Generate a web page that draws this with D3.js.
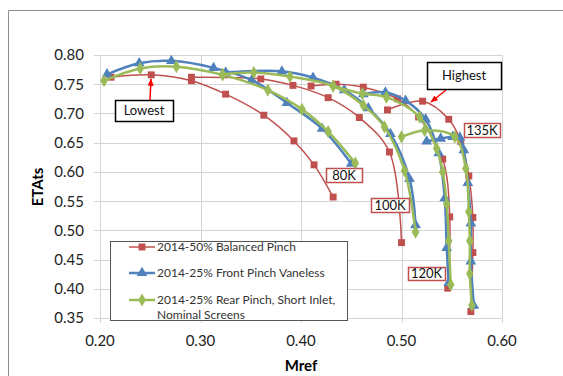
<!DOCTYPE html>
<html>
<head>
<meta charset="utf-8">
<script src="https://cdn.jsdelivr.net/npm/d3@7"></script>
<style>
  body { margin: 0; background: #fff; }
  text { font-family: Lato, "Liberation Sans", sans-serif; }
</style>
</head>
<body>
<div id="chart"></div>
<script>
// [Mref, ETAts] per speed line
var balanced80  = [[0.211,0.762],[0.251,0.766],[0.291,0.756],[0.325,0.733],[0.363,0.697],[0.393,0.653],[0.413,0.612],[0.432,0.557]];
var balanced100 = [[0.291,0.762],[0.360,0.759],[0.392,0.748],[0.427,0.727],[0.458,0.693],[0.488,0.634],[0.500,0.479]];
var balanced120 = [[0.410,0.747],[0.435,0.750],[0.462,0.745],[0.496,0.725],[0.517,0.694],[0.541,0.622],[0.548,0.523],[0.546,0.401]];
var balanced135 = [[0.486,0.706],[0.521,0.721],[0.547,0.690],[0.559,0.652],[0.567,0.593],[0.571,0.522],[0.571,0.462],[0.569,0.361]];

var front80  = [[0.207,0.767],[0.239,0.786],[0.271,0.790],[0.313,0.778],[0.351,0.757],[0.386,0.718],[0.421,0.674],[0.450,0.614]];
var front100 = [[0.325,0.770],[0.381,0.772],[0.412,0.761],[0.443,0.740],[0.467,0.709],[0.489,0.665],[0.508,0.588],[0.514,0.509]];
var front120 = [[0.462,0.733],[0.484,0.736],[0.504,0.722],[0.524,0.690],[0.537,0.632],[0.543,0.555],[0.545,0.470],[0.547,0.410]];
var front135 = [[0.525,0.652],[0.539,0.657],[0.551,0.660],[0.558,0.659],[0.562,0.637],[0.566,0.581],[0.569,0.512],[0.569,0.447],[0.572,0.371]];

var rear80  = [[0.204,0.756],[0.240,0.777],[0.276,0.780],[0.322,0.766],[0.367,0.740],[0.401,0.707],[0.427,0.669],[0.454,0.615]];
var rear100 = [[0.322,0.767],[0.353,0.770],[0.389,0.763],[0.432,0.747],[0.462,0.714],[0.483,0.677],[0.503,0.602],[0.514,0.497]];
var rear120 = [[0.432,0.747],[0.461,0.734],[0.485,0.728],[0.518,0.694],[0.535,0.640],[0.541,0.600],[0.545,0.545],[0.547,0.482],[0.549,0.407]];
var rear135 = [[0.500,0.660],[0.523,0.671],[0.553,0.660],[0.564,0.606],[0.567,0.532],[0.568,0.482],[0.568,0.426],[0.570,0.372]];

var seriesNames = ["2014-50% Balanced Pinch", "2014-25% Front Pinch Vaneless", "2014-25% Rear Pinch, Short Inlet,"];
var xTicks = [0.20, 0.30, 0.40, 0.50, 0.60];
var yTicks = [0.35, 0.40, 0.45, 0.50, 0.55, 0.60, 0.65, 0.70, 0.75, 0.80];

var series = [
  {name: seriesNames[0], lines: [balanced80, balanced100, balanced120, balanced135], color: "#C0504D", width: 1.5, symbol: d3.symbolSquare, size: 48},
  {name: seriesNames[1], lines: [front80, front100, front120, front135], color: "#4F81BD", width: 2.5, symbol: d3.symbolTriangle, size: 50},
  {name: seriesNames[2], lines: [rear80, rear100, rear120, rear135], color: "#9BBB59", width: 2.5, symbol: d3.symbolDiamond, size: 50}
];

var width = 563, height = 376;

var svg = d3.select("#chart")
    .append("svg")
    .attr("width", width)
    .attr("height", height);

// outer chart frame
svg.append("path")
    .attr("d", "M8.5,376V10.5H563")
    .attr("fill", "none")
    .attr("stroke", "#8c8c8c")
    .attr("stroke-width", 1);

var x = d3.scaleLinear().domain([0.2, 0.6]).range([100, 502]);
var y = d3.scaleLinear().domain([0.35, 0.80]).range([318, 55]);

// gridlines
svg.append("g")
    .selectAll("line")
    .data(yTicks)
    .enter()
    .append("line")
    .attr("x1", x(0.2) - 6)
    .attr("x2", x(0.6))
    .attr("y1", function(d) { return Math.round(y(d)) + 0.5; })
    .attr("y2", function(d) { return Math.round(y(d)) + 0.5; })
    .attr("stroke", "#d4d4d4");

svg.append("g")
    .selectAll("line")
    .data(xTicks)
    .enter()
    .append("line")
    .attr("x1", function(d) { return Math.round(x(d)) + 0.5; })
    .attr("x2", function(d) { return Math.round(x(d)) + 0.5; })
    .attr("y1", y(0.8))
    .attr("y2", y(0.35) + 5)
    .attr("stroke", "#d4d4d4");

// tick labels
svg.append("g")
    .selectAll("text")
    .data(yTicks)
    .enter()
    .append("text")
    .attr("x", 84)
    .attr("y", function(d) { return y(d); })
    .attr("dy", "0.36em")
    .attr("text-anchor", "end")
    .attr("font-size", 15)
    .attr("fill", "#222")
    .text(d3.format(".2f"));

svg.append("g")
    .selectAll("text")
    .data(xTicks)
    .enter()
    .append("text")
    .attr("x", function(d) { return x(d); })
    .attr("y", 346)
    .attr("text-anchor", "middle")
    .attr("font-size", 15)
    .attr("fill", "#222")
    .text(d3.format(".2f"));

// axis titles
svg.append("text")
    .attr("x", 301)
    .attr("y", 371)
    .attr("text-anchor", "middle")
    .attr("font-size", 15)
    .attr("font-weight", "bold")
    .text("Mref");

svg.append("text")
    .attr("transform", "translate(43,187) rotate(-90)")
    .attr("text-anchor", "middle")
    .attr("font-size", 15)
    .attr("font-weight", "bold")
    .text("ETAts");

// speed lines
var line = d3.line()
    .x(function(d) { return x(d[0]); })
    .y(function(d) { return y(d[1]); })
    .curve(d3.curveCatmullRom.alpha(0.5));

series.forEach(function(s) {
    var g = svg.append("g");
    g.selectAll("path.speed")
        .data(s.lines)
        .enter()
        .append("path")
        .attr("class", "speed")
        .attr("d", line)
        .attr("fill", "none")
        .attr("stroke", s.color)
        .attr("stroke-width", s.width);
    s.lines.forEach(function(pts) {
        g.selectAll(null)
            .data(pts)
            .enter()
            .append("path")
            .attr("d", d3.symbol().type(s.symbol).size(s.size))
            .attr("transform", function(d) { return "translate(" + x(d[0]) + "," + y(d[1]) + ")"; })
            .attr("fill", s.color);
    });
});

// legend
var legend = svg.append("g");
legend.append("rect")
    .attr("x", 110.5).attr("y", 241.5)
    .attr("width", 237).attr("height", 79)
    .attr("fill", "#fff")
    .attr("stroke", "#555");

var legendRows = [247, 273, 300];
series.forEach(function(s, i) {
    var ly = legendRows[i];
    legend.append("line")
        .attr("x1", 129).attr("x2", 155)
        .attr("y1", ly).attr("y2", ly)
        .attr("stroke", s.color)
        .attr("stroke-width", s.width);
    legend.append("path")
        .attr("d", d3.symbol().type(s.symbol).size(s.size))
        .attr("transform", "translate(142," + ly + ")")
        .attr("fill", s.color);
    legend.append("text")
        .attr("x", 157)
        .attr("y", ly)
        .attr("dy", "0.36em")
        .attr("font-size", 12)
        .attr("fill", "#333")
        .text(s.name);
});
legend.append("text")
    .attr("x", 157)
    .attr("y", 315)
    .attr("dy", "0.36em")
    .attr("font-size", 12)
    .attr("fill", "#333")
    .text("Nominal Screens");

// call-outs
var arrowDefs = svg.append("defs");
arrowDefs.append("marker")
    .attr("id", "arrow")
    .attr("viewBox", "0 0 10 10")
    .attr("refX", 9).attr("refY", 5)
    .attr("markerWidth", 5).attr("markerHeight", 5)
    .attr("orient", "auto")
    .append("path")
    .attr("d", "M0,1L10,5L0,9z")
    .attr("fill", "#ff0000");

svg.append("line")
    .attr("x1", 150).attr("y1", 100)
    .attr("x2", 151).attr("y2", 79)
    .attr("stroke", "#ff0000").attr("stroke-width", 1.5)
    .attr("marker-end", "url(#arrow)");

svg.append("line")
    .attr("x1", 446).attr("y1", 90)
    .attr("x2", 431).attr("y2", 102)
    .attr("stroke", "#ff0000").attr("stroke-width", 1.5)
    .attr("marker-end", "url(#arrow)");

var boxes = [
    {text: "Lowest", x: 115, y: 100, w: 58, h: 21, stroke: "#000", size: 13},
    {text: "Highest", x: 427, y: 62, w: 74, h: 27, stroke: "#000", size: 13},
    {text: "135K", x: 464, y: 123, w: 36, h: 14, stroke: "#C0504D", size: 13},
    {text: "80K", x: 326, y: 168, w: 36, h: 14, stroke: "#C0504D", size: 13},
    {text: "100K", x: 371, y: 198, w: 38, h: 14, stroke: "#C0504D", size: 13},
    {text: "120K", x: 408, y: 267, w: 37, h: 13, stroke: "#C0504D", size: 13}
];

var box = svg.append("g")
    .selectAll("g")
    .data(boxes)
    .enter()
    .append("g");

box.append("rect")
    .attr("x", function(d) { return d.x + 0.5; })
    .attr("y", function(d) { return d.y + 0.5; })
    .attr("width", function(d) { return d.w; })
    .attr("height", function(d) { return d.h; })
    .attr("fill", "#fff")
    .attr("stroke", function(d) { return d.stroke; })
    .attr("stroke-width", 1.5);

box.append("text")
    .attr("x", function(d) { return d.x + d.w / 2; })
    .attr("y", function(d) { return d.y + d.h / 2; })
    .attr("dy", "0.36em")
    .attr("text-anchor", "middle")
    .attr("font-size", function(d) { return d.size; })
    .attr("fill", "#111")
    .text(function(d) { return d.text; });
</script>
</body>
</html>
